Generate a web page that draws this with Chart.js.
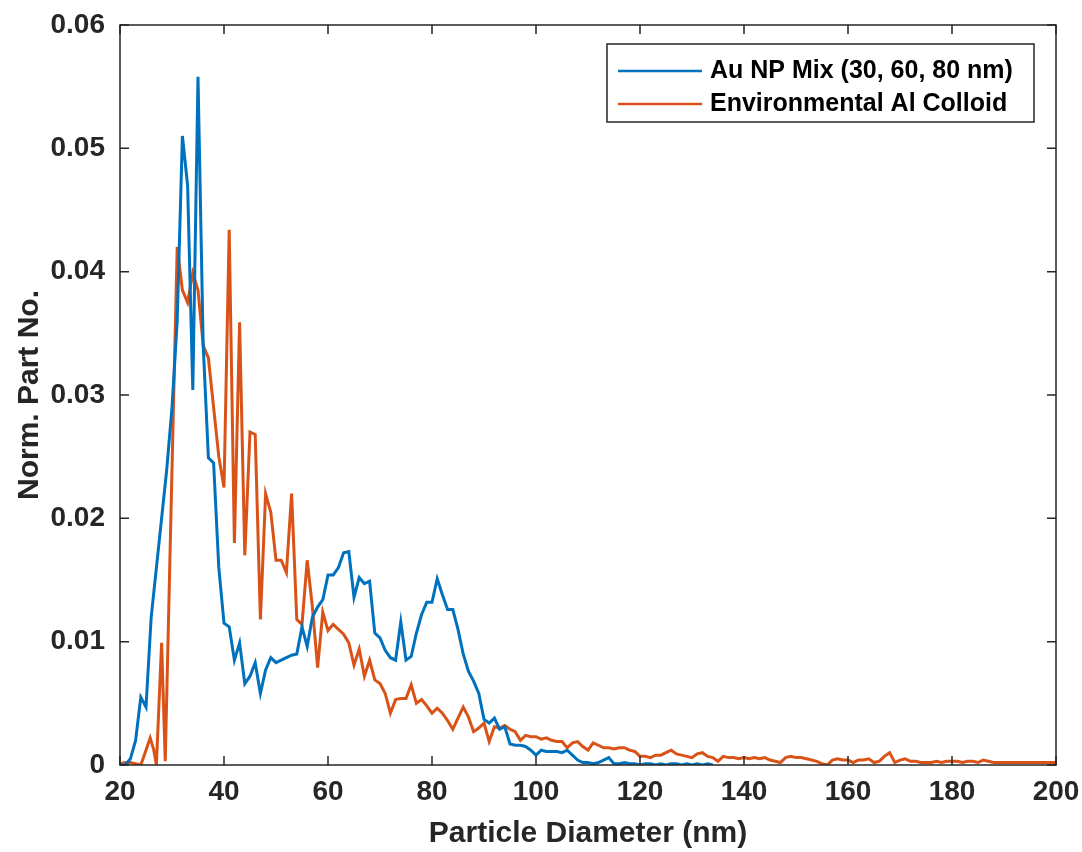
<!DOCTYPE html>
<html lang="en">
<head>
  <meta charset="UTF-8">
  <title>Particle Size Distribution</title>
  <script src="https://cdn.jsdelivr.net/npm/chart.js"></script>
  <style>
    html, body {
      margin: 0;
      padding: 0;
      background: #ffffff;
    }
    .chart-container {
      position: relative;
      width: 1082px;
      height: 852px;
    }
  </style>
</head>
<body>
  <div class="chart-container">
    <canvas id="psd-chart"></canvas>
  </div>

  <script>
    // Au NP mix (30, 60, 80 nm) - diameter (nm) and normalised particle number
    const auDiam = [20, 21, 22, 23, 24, 25, 26, 27, 28, 29,
      30, 31, 32, 33, 34, 35, 36, 37, 38, 39,
      40, 41, 42, 43, 44, 45, 46, 47, 48, 49,
      50, 51, 52, 53, 54, 55, 56, 57, 58, 59,
      60, 61, 62, 63, 64, 65, 66, 67, 68, 69,
      70, 71, 72, 73, 74, 75, 76, 77, 78, 79,
      80, 81, 82, 83, 84, 85, 86, 87, 88, 89,
      90, 91, 92, 93, 94, 95, 96, 97, 98, 99,
      100, 101, 102, 103, 104, 105, 106, 107, 108, 109,
      110, 111, 112, 113, 114, 115, 116, 117, 118, 119,
      120, 121, 122, 123, 124, 125, 126, 127, 128, 129,
      130, 131, 132, 133, 134];
    const auNorm = [0, 0, 0.0005, 0.002, 0.0055, 0.0047, 0.012, 0.016, 0.020, 0.024,
      0.029, 0.036, 0.051, 0.047, 0.0304, 0.0558, 0.034, 0.0249, 0.0245, 0.016,
      0.0115, 0.0112, 0.0085, 0.0099, 0.0066, 0.0072, 0.0083, 0.0058, 0.0077, 0.0087,
      0.0083, 0.0085, 0.0087, 0.0089, 0.009, 0.0112, 0.0096, 0.012, 0.0128, 0.0134,
      0.0154, 0.0154, 0.016, 0.0172, 0.0173, 0.0136, 0.0152, 0.0147, 0.0149, 0.0107,
      0.0103, 0.0093, 0.0087, 0.0085, 0.0116, 0.0085, 0.0088, 0.0107, 0.0122, 0.0132,
      0.0132, 0.0151, 0.0138, 0.0126, 0.0126, 0.011, 0.009, 0.0076, 0.0068, 0.0058,
      0.0037, 0.0034, 0.0038, 0.0029, 0.0031, 0.0017, 0.0016, 0.0016, 0.0015, 0.0012,
      0.0008, 0.0012, 0.0011, 0.0011, 0.0011, 0.001, 0.0012, 0.0008, 0.0004, 0.0002,
      0.0002, 0.0001, 0.0002, 0.0004, 0.0006, 0.0001, 0.0001, 0.0002, 0.0001, 0.0001,
      0, 0.0001, 0.0001, 0, 0.0001, 0, 0.0001, 0.0001, 0, 0.0001,
      0, 0.0001, 0, 0.0001, 0];

    // Environmental Al colloid
    const alDiam = [20, 21, 22, 23, 24, 25, 25.8, 26.5, 27, 28, 28.7,
      30, 31, 32, 33, 34, 35, 36, 37, 38, 39,
      40, 41, 42, 43, 44, 45, 46, 47, 48, 49,
      50, 51, 52, 53, 54, 55, 56, 57, 58, 59,
      60, 61, 62, 63, 64, 65, 66, 67, 68, 69,
      70, 71, 72, 73, 74, 75, 76, 77, 78, 79,
      80, 81, 82, 83, 84, 85, 86, 87, 88, 89,
      90, 91, 92, 93, 94, 95, 96, 97, 98, 99,
      100, 101, 102, 103, 104, 105, 106, 107, 108, 109,
      110, 111, 112, 113, 114, 115, 116, 117, 118, 119,
      120, 121, 122, 123, 124, 125, 126, 127, 128, 129,
      130, 131, 132, 133, 134, 135, 136, 137, 138, 139,
      140, 141, 142, 143, 144, 145, 146, 147, 148, 149,
      150, 151, 152, 153, 154, 155, 156, 157, 158, 159,
      160, 161, 162, 163, 164, 165, 166, 167, 168, 169,
      170, 171, 172, 173, 174, 175, 176, 177, 178, 179,
      180, 181, 182, 183, 184, 185, 186, 187, 188, 189,
      190, 191, 192, 193, 194, 195, 196, 197, 198, 199, 200];
    const alNorm = [0.0001, 0.0002, 0.0002, 0.0001, 0, 0.0012, 0.0022, 0.0012, 0, 0.0099, 0.0003,
      0.024, 0.042, 0.0385, 0.0375, 0.0399, 0.0385, 0.034, 0.033, 0.029, 0.025,
      0.0225, 0.0434, 0.018, 0.0359, 0.017, 0.027, 0.0268, 0.0118, 0.022, 0.0205,
      0.0166, 0.0166, 0.0156, 0.022, 0.0118, 0.0114, 0.0166, 0.0128, 0.0079, 0.0124,
      0.0109, 0.0114, 0.011, 0.0106, 0.0099, 0.0081, 0.0094, 0.0072, 0.0085, 0.0069,
      0.0066, 0.0058, 0.0042, 0.0053, 0.0054, 0.0054, 0.0065, 0.005, 0.0053, 0.0048,
      0.0042, 0.0046, 0.0042, 0.0036, 0.0029, 0.0038, 0.0047, 0.0039, 0.0027, 0.003,
      0.0034, 0.0019, 0.0031, 0.003, 0.0032, 0.0029, 0.0027, 0.002, 0.0024, 0.0023,
      0.0023, 0.0021, 0.0022, 0.002, 0.0019, 0.0019, 0.0014, 0.0018, 0.0019, 0.0015,
      0.0012, 0.0018, 0.0016, 0.0014, 0.0014, 0.0013, 0.0014, 0.0014, 0.0012, 0.0011,
      0.0007, 0.0007, 0.0006, 0.0008, 0.0008, 0.001, 0.0012, 0.0009, 0.0008, 0.0007,
      0.0006, 0.0009, 0.001, 0.0007, 0.0006, 0.0003, 0.0007, 0.0006, 0.0006, 0.0005,
      0.0006, 0.0005, 0.0006, 0.0005, 0.0006, 0.0004, 0.0003, 0.0002, 0.0006, 0.0007,
      0.0006, 0.0006, 0.0005, 0.0004, 0.0003, 0.0001, 0, 0.0004, 0.0005, 0.0004,
      0.0004, 0.0002, 0.0004, 0.0004, 0.0005, 0.0002, 0.0003, 0.0007, 0.001, 0.0002,
      0.0004, 0.0005, 0.0003, 0.0003, 0.0002, 0.0002, 0.0002, 0.0003, 0.0002, 0.0003,
      0.0003, 0.0003, 0.0002, 0.0003, 0.0003, 0.0002, 0.0004, 0.0003, 0.0002, 0.0002,
      0.0002, 0.0002, 0.0002, 0.0002, 0.0002, 0.0002, 0.0002, 0.0002, 0.0002, 0.0002, 0.0002];

    const xTicks = [20, 40, 60, 80, 100, 120, 140, 160, 180, 200];
    const yTicks = [0, 0.01, 0.02, 0.03, 0.04, 0.05, 0.06];
    const seriesLabels = ['Au NP Mix (30, 60, 80 nm)', 'Environmental Al Colloid'];

    const axisColor = '#262626';
    const fontFamily = "'Liberation Sans', Arial, Helvetica, sans-serif";

    function toPoints(xs, ys) {
      return xs.map((x, i) => ({ x: x, y: ys[i] }));
    }

    // MATLAB style: box around the axes, inward ticks on all four sides, legend box top right
    const matlabBox = {
      id: 'matlabBox',
      afterDatasetsDraw(chart) {
        const ctx = chart.ctx;
        const area = chart.chartArea;
        const xs = chart.scales.x;
        const ys = chart.scales.y;
        const tickLen = 9;
        ctx.save();
        ctx.strokeStyle = axisColor;
        ctx.lineWidth = 1.5;
        ctx.strokeRect(area.left, area.top, area.right - area.left, area.bottom - area.top);
        ctx.beginPath();
        xTicks.forEach(v => {
          const px = xs.getPixelForValue(v);
          ctx.moveTo(px, area.bottom);
          ctx.lineTo(px, area.bottom - tickLen);
          ctx.moveTo(px, area.top);
          ctx.lineTo(px, area.top + tickLen);
        });
        yTicks.forEach(v => {
          const py = ys.getPixelForValue(v);
          ctx.moveTo(area.left, py);
          ctx.lineTo(area.left + tickLen, py);
          ctx.moveTo(area.right, py);
          ctx.lineTo(area.right - tickLen, py);
        });
        ctx.stroke();

        // legend
        const lx = 607, ly = 44, lw = 427, lh = 78;
        ctx.fillStyle = '#ffffff';
        ctx.fillRect(lx, ly, lw, lh);
        ctx.lineWidth = 1.5;
        ctx.strokeRect(lx, ly, lw, lh);
        ctx.font = 'bold 25px ' + fontFamily;
        ctx.textBaseline = 'middle';
        ctx.textAlign = 'left';
        chart.data.datasets.forEach((ds, i) => {
          const yy = ly + 27 + i * 33;
          ctx.strokeStyle = ds.borderColor;
          ctx.lineWidth = 2.6;
          ctx.beginPath();
          ctx.moveTo(lx + 11, yy);
          ctx.lineTo(lx + 95, yy);
          ctx.stroke();
          ctx.fillStyle = '#000000';
          ctx.fillText(ds.label, lx + 103, yy);
        });
        ctx.restore();
      }
    };

    const ctx = document.getElementById('psd-chart').getContext('2d');
    new Chart(ctx, {
      type: 'line',
      data: {
        datasets: [{
          label: seriesLabels[0],
          data: toPoints(auDiam, auNorm),
          borderColor: '#0072BD',
          borderWidth: 3,
          pointRadius: 0,
          tension: 0,
          fill: false
        }, {
          label: seriesLabels[1],
          data: toPoints(alDiam, alNorm),
          borderColor: '#D95319',
          borderWidth: 3,
          pointRadius: 0,
          tension: 0,
          fill: false
        }]
      },
      options: {
        responsive: true,
        maintainAspectRatio: false,
        animation: false,
        layout: {
          padding: { top: 25, right: 26, left: 0, bottom: 0 }
        },
        plugins: {
          legend: { display: false },
          tooltip: { enabled: false }
        },
        scales: {
          x: {
            type: 'linear',
            min: 20,
            max: 200,
            afterBuildTicks: s => { s.ticks = xTicks.map(v => ({ value: v })); },
            afterFit: s => {
              s.height = 87;
              s.paddingLeft = 0;
              s.paddingRight = 0;
            },
            grid: { display: false, drawTicks: false },
            border: { display: false },
            ticks: {
              color: '#262626',
              padding: 10,
              maxRotation: 0,
              font: { family: fontFamily, size: 28, weight: 'bold' }
            },
            title: {
              display: true,
              text: 'Particle Diameter (nm)',
              color: '#262626',
              padding: { top: 0, bottom: 0 },
              font: { family: fontFamily, size: 30, weight: 'bold' }
            }
          },
          y: {
            min: 0,
            max: 0.06,
            afterBuildTicks: s => { s.ticks = yTicks.map(v => ({ value: v })); },
            afterFit: s => {
              s.width = 120;
              s.paddingTop = 0;
              s.paddingBottom = 0;
            },
            grid: { display: false, drawTicks: false },
            border: { display: false },
            ticks: {
              color: '#262626',
              padding: 15,
              font: { family: fontFamily, size: 28, weight: 'bold' },
              callback: v => v === 0 ? '0' : v.toFixed(2)
            },
            title: {
              display: true,
              text: 'Norm. Part No.',
              color: '#262626',
              padding: { top: 12, bottom: 0 },
              font: { family: fontFamily, size: 30, weight: 'bold' }
            }
          }
        }
      },
      plugins: [matlabBox]
    });
  </script>
</body>
</html>
